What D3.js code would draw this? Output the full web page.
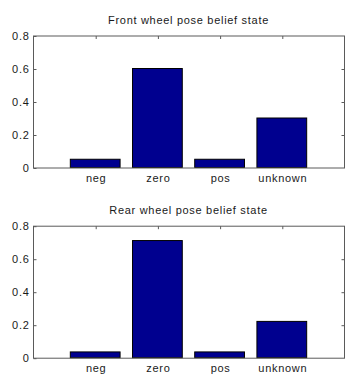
<!DOCTYPE html>
<html>
<head>
<meta charset="utf-8">
<script src="https://cdn.jsdelivr.net/npm/d3@7"></script>
<style>
  body { margin: 0; background: #fff; }
  text { font-family: "Liberation Sans", Arial, sans-serif; font-size: 11px; letter-spacing: 0.7px; fill: #1a1a1a; }
</style>
</head>
<body>
<div class="plot"></div>
<script>
// data
let categories = ["neg", "zero", "pos", "unknown"]
let frontValues = [0.05, 0.6, 0.05, 0.3]
let rearValues = [0.035, 0.71, 0.035, 0.22]
let yTicks = [0, 0.2, 0.4, 0.6, 0.8]
let titles = ["Front wheel pose belief state", "Rear wheel pose belief state"]

let W = 346, H = 377
let svg = d3.select(".plot")
            .append("svg")
            .attr("width", W)
            .attr("height", H)

let left = 33, right = 344
let panelTops = [35.5, 225.7]
let panelHeight = 132

// x is the bar index 1..4, matlab style with limits [0,5]
let xScale = d3.scaleLinear()
      .domain([0, categories.length + 1])
      .range([left, right])
let barW = (xScale(1) - xScale(0)) * 0.8

function drawPanel(top, title, values){
  let yScale = d3.scaleLinear()
        .domain([0, 0.8])
        .range([top + panelHeight, top])
  let g = svg.append("g")

  // bars
  g.selectAll(".bar")
    .data(values)
    .enter()
    .append("rect")
    .attr("class", "bar")
    .attr("x", function(d, i){ return xScale(i + 1) - barW / 2 })
    .attr("y", function(d){ return yScale(d) })
    .attr("width", barW)
    .attr("height", function(d){ return yScale(0) - yScale(d) })
    .attr("fill", "#00008f")
    .attr("stroke", "#000")
    .attr("stroke-width", 1)

  // box
  g.append("rect")
    .attr("x", left + 0.5)
    .attr("y", top + 0.5)
    .attr("width", right - left)
    .attr("height", panelHeight)
    .attr("fill", "none")
    .attr("stroke", "#5a5a5a")
    .attr("stroke-width", 1)

  // y axis, ticks inward on both sides
  let yAxisL = d3.axisLeft(yScale)
        .tickValues(yTicks)
        .tickSizeInner(-3)
        .tickSizeOuter(0)
        .tickPadding(4)
        .tickFormat(function(d){ return d === 0 ? "0" : d3.format(".1f")(d) })
  let ya = g.append("g")
    .attr("transform", "translate(" + (left + 0.5) + ",0.5)")
    .call(yAxisL)
  ya.select(".domain").remove()
  ya.selectAll("line").attr("stroke", "#5a5a5a")
  ya.selectAll("text").attr("fill", "#1a1a1a").style("font-size", "11px")
    .attr("font-family", null)

  let yAxisR = d3.axisRight(yScale)
        .tickValues(yTicks.slice(1, -1))
        .tickSizeInner(-3)
        .tickSizeOuter(0)
        .tickFormat("")
  let yr = g.append("g")
    .attr("transform", "translate(" + (right + 0.5) + ",0.5)")
    .call(yAxisR)
  yr.select(".domain").remove()
  yr.selectAll("line").attr("stroke", "#5a5a5a")

  // x ticks on top, inward
  let xTop = d3.axisTop(xScale)
        .tickValues([1, 2, 3, 4])
        .tickSizeInner(-3)
        .tickSizeOuter(0)
        .tickFormat("")
  let xt = g.append("g")
    .attr("transform", "translate(0.5," + (top + 0.5) + ")")
    .call(xTop)
  xt.select(".domain").remove()
  xt.selectAll("line").attr("stroke", "#5a5a5a")

  // category labels below
  let xBottom = d3.axisBottom(xScale)
        .tickValues([1, 2, 3, 4])
        .tickSize(0)
        .tickPadding(6)
        .tickFormat(function(d){ return categories[d - 1] })
  let xb = g.append("g")
    .attr("transform", "translate(0.5," + (top + panelHeight + 0.5) + ")")
    .call(xBottom)
  xb.select(".domain").remove()
  xb.selectAll("text").attr("fill", "#1a1a1a").style("font-size", "11px")
  g.selectAll(".tick text").attr("font-family", null)

  // title
  g.append("text")
    .attr("x", (left + right) / 2)
    .attr("y", top - 12)
    .style("text-anchor", "middle")
    .text(title)
}

drawPanel(panelTops[0], titles[0], frontValues)
drawPanel(panelTops[1], titles[1], rearValues)
</script>
</body>
</html>
